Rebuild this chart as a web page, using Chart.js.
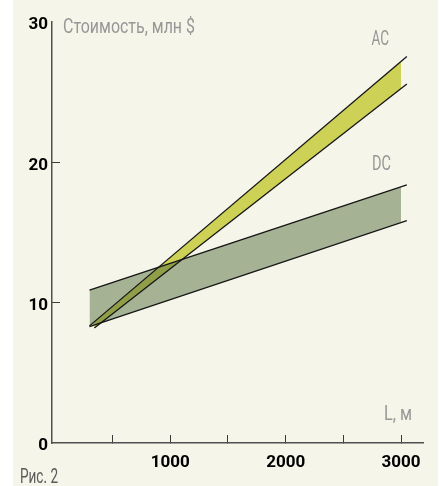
<!DOCTYPE html>
<html>
<head>
<meta charset="utf-8">
<script src="https://cdn.jsdelivr.net/npm/chart.js@4"></script>
<style>
  html, body { margin: 0; padding: 0; background: #fff; }
  #wrap { width: 444px; height: 486px; }
</style>
</head>
<body>
<div id="wrap"><canvas id="costChart" width="444" height="486"></canvas></div>
<script>
// линии AC и DC (L, м -> стоимость, млн $)
const acUpperX = [300, 3050];
const acUpperY = [8.35, 27.55];
const acLowerX = [342, 3050];
const acLowerY = [8.2, 25.6];
const dcUpperX = [300, 3050];
const dcUpperY = [10.9, 18.4];
const dcLowerX = [300, 3050];
const dcLowerY = [8.3, 15.85];

// заливка полос заканчивается на L = 3000
const acBandTopX = [300, 3000];
const acBandTopY = [8.35, 27.2];
const acBandBottomX = [342, 3000];
const acBandBottomY = [8.2, 25.3];
const dcBandTopX = [300, 3000];
const dcBandTopY = [10.9, 18.25];
const dcBandBottomX = [300, 3000];
const dcBandBottomY = [8.3, 15.75];

const xTicks = [500, 1000, 1500, 2000, 2500, 3000];
const xLabels = [1000, 2000, 3000];
const yTicks = [0, 10, 20, 30];

const cream = '#f5f5e9';
const grayText = '#979797';

function pts(xs, ys) {
    return xs.map((x, i) => ({ x: x, y: ys[i] }));
}

function drawNarrow(ctx, text, x, baseline, width, color) {
    ctx.save();
    ctx.font = '20px Roboto';
    const w = ctx.measureText(text).width;
    ctx.translate(x, baseline);
    ctx.scale(width / w, 1);
    ctx.fillStyle = color;
    ctx.textBaseline = 'alphabetic';
    ctx.textAlign = 'left';
    ctx.fillText(text, 0, 0);
    ctx.restore();
}

const paperPlugin = {
    id: 'paper',
    beforeDraw(chart) {
        const ctx = chart.ctx;
        ctx.save();
        ctx.fillStyle = '#ffffff';
        ctx.fillRect(0, 0, chart.width, chart.height);
        ctx.fillStyle = cream;
        ctx.fillRect(13, 0, 425, chart.height);
        ctx.restore();
    },
    afterDraw(chart) {
        const ctx = chart.ctx;
        drawNarrow(ctx, 'Стоимость, млн $', 63, 32.5, 132, grayText);
        drawNarrow(ctx, 'AC', 371.5, 45, 17.5, grayText);
        drawNarrow(ctx, 'DC', 372, 169.5, 19, grayText);
        drawNarrow(ctx, 'L, м', 384, 419.5, 28, grayText);
        drawNarrow(ctx, 'Рис. 2', 20, 483, 38, '#5a5a5a');
    }
};

const lineStyle = {
    borderColor: '#141414',
    borderWidth: 1.3,
    pointRadius: 0,
    fill: false,
    order: 1
};

const tickFont = { family: 'Roboto', size: 17, weight: 'bold' };

new Chart(document.getElementById('costChart').getContext('2d'), {
    type: 'line',
    data: {
        datasets: [
            { data: pts(acBandTopX, acBandTopY), borderWidth: 0, pointRadius: 0,
              backgroundColor: '#cdd156', fill: '+1', order: 3 },
            { data: pts(acBandBottomX, acBandBottomY), borderWidth: 0, pointRadius: 0,
              fill: false, order: 3 },
            { data: pts(dcBandTopX, dcBandTopY), borderWidth: 0, pointRadius: 0,
              backgroundColor: 'rgba(75, 104, 54, 0.475)', fill: '+1', order: 2 },
            { data: pts(dcBandBottomX, dcBandBottomY), borderWidth: 0, pointRadius: 0,
              fill: false, order: 2 },
            Object.assign({ data: pts(acUpperX, acUpperY) }, lineStyle),
            Object.assign({ data: pts(acLowerX, acLowerY) }, lineStyle),
            Object.assign({ data: pts(dcUpperX, dcUpperY) }, lineStyle),
            Object.assign({ data: pts(dcLowerX, dcLowerY) }, lineStyle)
        ]
    },
    options: {
        responsive: false,
        devicePixelRatio: 1,
        animation: false,
        events: [],
        layout: { padding: { left: 12, right: 21, top: 12, bottom: 0 } },
        plugins: {
            legend: { display: false },
            tooltip: { enabled: false }
        },
        scales: {
            x: {
                type: 'linear',
                min: -25,
                max: 3190,
                afterBuildTicks(scale) {
                    scale.ticks = xTicks.map(v => ({ value: v }));
                },
                afterFit(scale) {
                    scale.height = 43;
                },
                ticks: {
                    autoSkip: false,
                    maxRotation: 0,
                    padding: 18,
                    color: '#000',
                    font: tickFont,
                    callback: v => xLabels.includes(v) ? String(v) : ''
                },
                grid: {
                    drawOnChartArea: false,
                    tickLength: -8,
                    color: '#3a3a3a',
                    lineWidth: 1
                },
                border: { color: '#505050', width: 1.5 }
            },
            y: {
                type: 'linear',
                min: 0,
                max: 30,
                afterBuildTicks(scale) {
                    scale.ticks = yTicks.map(v => ({ value: v }));
                },
                afterFit(scale) {
                    scale.width = 40;
                },
                ticks: {
                    padding: 12,
                    labelOffset: 3,
                    color: '#000',
                    font: tickFont
                },
                grid: {
                    drawOnChartArea: false,
                    tickLength: -8,
                    lineWidth: 1,
                    color: c => (c.tick && (c.tick.value === 10 || c.tick.value === 20)) ? '#3a3a3a' : 'rgba(0,0,0,0)'
                },
                border: { color: '#505050', width: 1.5 }
            }
        }
    },
    plugins: [paperPlugin]
});
</script>
</body>
</html>
